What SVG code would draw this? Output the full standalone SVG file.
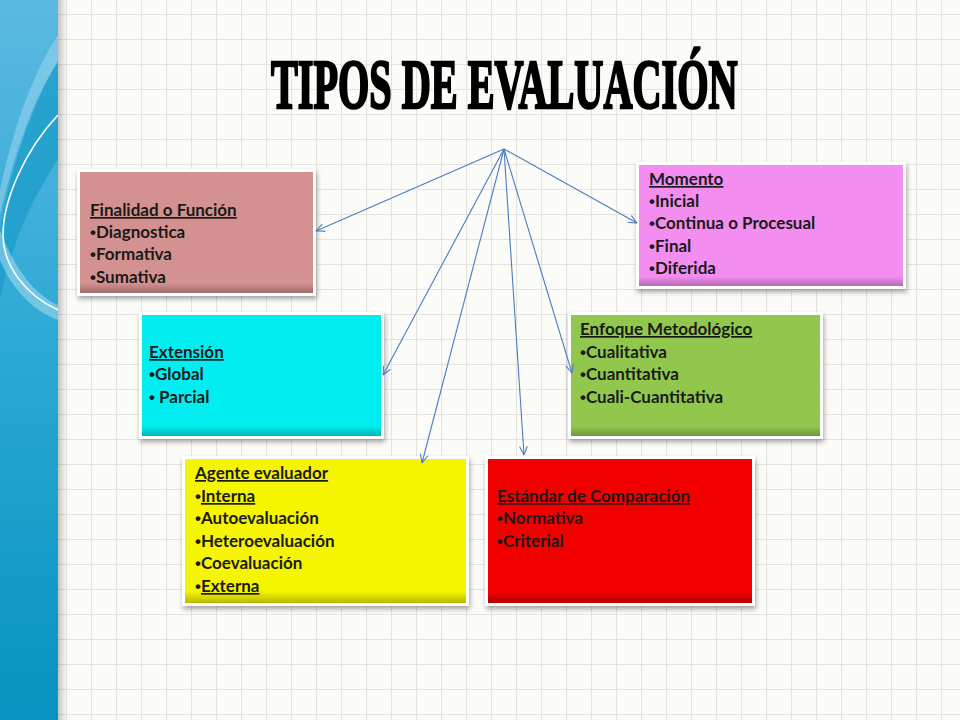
<svg xmlns="http://www.w3.org/2000/svg" width="960" height="720" viewBox="0 0 960 720">
<defs>
<pattern id="grid" patternUnits="userSpaceOnUse" x="16" y="14" width="25" height="25">
<path d="M0.5 0 V25 M0 0.5 H25" stroke="#e4e4de" stroke-width="1.2" fill="none"/>
</pattern>
<linearGradient id="panel" x1="0" y1="0" x2="0" y2="1">
<stop offset="0" stop-color="#5cb9e1"/>
<stop offset="0.5" stop-color="#2aa8d4"/>
<stop offset="1" stop-color="#0693bf"/>
</linearGradient>
<linearGradient id="pshadow" x1="0" y1="0" x2="1" y2="0">
<stop offset="0" stop-color="#000" stop-opacity="0.22"/>
<stop offset="1" stop-color="#000" stop-opacity="0"/>
</linearGradient>
<linearGradient id="shade" x1="0" y1="0" x2="0" y2="1">
<stop offset="0" stop-color="#000" stop-opacity="0"/>
<stop offset="0.92" stop-color="#000" stop-opacity="0"/>
<stop offset="1" stop-color="#000" stop-opacity="0.25"/>
</linearGradient>
<filter id="ds" x="-10%" y="-10%" width="120%" height="125%">
<feGaussianBlur in="SourceAlpha" stdDeviation="2.5"/>
<feOffset dx="1" dy="3" result="b"/>
<feComponentTransfer><feFuncA type="linear" slope="0.35"/></feComponentTransfer>
<feMerge><feMergeNode/><feMergeNode in="SourceGraphic"/></feMerge>
</filter>
<marker id="arr" viewBox="0 0 10 10" refX="9.5" refY="5" markerWidth="10" markerHeight="10" markerUnits="userSpaceOnUse" orient="auto">
<path d="M1 1.2 L9.5 5 L1 8.8" fill="none" stroke="#4a7ebb" stroke-width="1.1"/>
</marker>
<style>
.frame{fill:#ffffff;filter:url(#ds)}
.t{font-family:Lato,"Liberation Sans",sans-serif;font-weight:bold;font-size:17px;fill:#1a1a1a}
.b{font-family:"Liberation Sans",sans-serif;font-weight:bold}
.u{text-decoration:underline}
.conn line{stroke:#4a7ebb;stroke-width:1.1;marker-end:url(#arr)}
</style>
</defs>
<rect width="960" height="720" fill="#fbfbf8"/>
<rect width="960" height="720" fill="url(#grid)"/>
<g id="panel-left">
<rect x="0" y="0" width="58" height="720" fill="url(#panel)"/>
<path d="M58 60 C30 110 10 170 0 230 L0 300 C10 250 30 200 58 160 Z" fill="#1e9dcb" opacity="0.8"/>
<path d="M58 35 C35 70 15 120 0 190 L0 215 C15 150 35 95 58 62 Z" fill="#9ad6ef" opacity="0.55"/>
<path d="M0 230 C15 270 35 295 58 305 L58 320 C35 312 12 290 0 260 Z" fill="#a8dcf0" opacity="0.55"/>
<path d="M58 115 C25 150 3 200 3 235 C3 265 25 295 58 310" fill="none" stroke="#ffffff" stroke-width="1.6"/>
<rect x="58" y="0" width="9" height="720" fill="url(#pshadow)"/>
</g>
<g id="title">
<text transform="translate(271,108) scale(0.575,1)" x="0" y="0" font-family="'Liberation Serif','DejaVu Serif',serif" font-weight="bold" font-size="70" fill="#000" stroke="#000" stroke-width="2.6">TIPOS DE EVALUACIÓN</text>
</g>
<g id="finalidad">
<rect class="frame" x="77" y="169" width="239" height="127"/>
<rect x="80" y="172" width="233" height="121" fill="#d39190"/>
<rect x="80" y="172" width="233" height="121" fill="url(#shade)"/>
<text class="t" x="90" y="216"><tspan class="u">Finalidad  o Función</tspan></text>
<text class="t" x="90" y="238"><tspan class="b">•</tspan>Diagnostica</text>
<text class="t" x="90" y="260"><tspan class="b">•</tspan>Formativa</text>
<text class="t" x="90" y="283"><tspan class="b">•</tspan>Sumativa</text>
</g>
<g id="momento">
<rect class="frame" x="636" y="162" width="270" height="127"/>
<rect x="639" y="165" width="264" height="121" fill="#f38ef0"/>
<rect x="639" y="165" width="264" height="121" fill="url(#shade)"/>
<text class="t" x="649" y="185"><tspan class="u">Momento</tspan></text>
<text class="t" x="649" y="207"><tspan class="b">•</tspan>Inicial</text>
<text class="t" x="649" y="229"><tspan class="b">•</tspan>Continua o Procesual</text>
<text class="t" x="649" y="252"><tspan class="b">•</tspan>Final</text>
<text class="t" x="649" y="274"><tspan class="b">•</tspan>Diferida</text>
</g>
<g id="extension">
<rect class="frame" x="139" y="312" width="245" height="127"/>
<rect x="142" y="315" width="239" height="121" fill="#00eef0"/>
<rect x="142" y="315" width="239" height="121" fill="url(#shade)"/>
<text class="t" x="149" y="358"><tspan class="u">Extensión</tspan></text>
<text class="t" x="149" y="380"><tspan class="b">•</tspan>Global</text>
<text class="t" x="149" y="403"><tspan class="b">•</tspan> Parcial</text>
</g>
<g id="enfoque">
<rect class="frame" x="568" y="312" width="255" height="127"/>
<rect x="571" y="315" width="249" height="121" fill="#92c74e"/>
<rect x="571" y="315" width="249" height="121" fill="url(#shade)"/>
<text class="t" x="580" y="335"><tspan class="u">Enfoque Metodológico</tspan></text>
<text class="t" x="580" y="358"><tspan class="b">•</tspan>Cualitativa</text>
<text class="t" x="580" y="380"><tspan class="b">•</tspan>Cuantitativa</text>
<text class="t" x="580" y="403"><tspan class="b">•</tspan>Cuali-Cuantitativa</text>
</g>
<g id="agente">
<rect class="frame" x="182" y="456" width="287" height="150"/>
<rect x="185" y="459" width="281" height="144" fill="#f5f500"/>
<rect x="185" y="459" width="281" height="144" fill="url(#shade)"/>
<text class="t" x="195" y="479"><tspan class="u">Agente evaluador</tspan></text>
<text class="t" x="195" y="502"><tspan class="b">•</tspan><tspan class="u">Interna</tspan></text>
<text class="t" x="195" y="524"><tspan class="b">•</tspan>Autoevaluación</text>
<text class="t" x="195" y="547"><tspan class="b">•</tspan>Heteroevaluación</text>
<text class="t" x="195" y="569"><tspan class="b">•</tspan>Coevaluación</text>
<text class="t" x="195" y="592"><tspan class="b">•</tspan><tspan class="u">Externa</tspan></text>
</g>
<g id="estandar">
<rect class="frame" x="485" y="456" width="270" height="150"/>
<rect x="488" y="459" width="264" height="144" fill="#f20000"/>
<rect x="488" y="459" width="264" height="144" fill="url(#shade)"/>
<text class="t" x="497" y="502"><tspan class="u">Estándar de Comparación</tspan></text>
<text class="t" x="497" y="524"><tspan class="b">•</tspan>Normativa</text>
<text class="t" x="497" y="547"><tspan class="b">•</tspan>Criterial</text>
</g>
<g class="conn" id="connectors">
<line x1="504" y1="149" x2="316" y2="231"/>
<line x1="504" y1="149" x2="637" y2="223"/>
<line x1="504" y1="149" x2="383" y2="375"/>
<line x1="504" y1="149" x2="422" y2="463"/>
<line x1="504" y1="149" x2="524" y2="455"/>
<line x1="504" y1="149" x2="572" y2="373"/>
</g>
</svg>
